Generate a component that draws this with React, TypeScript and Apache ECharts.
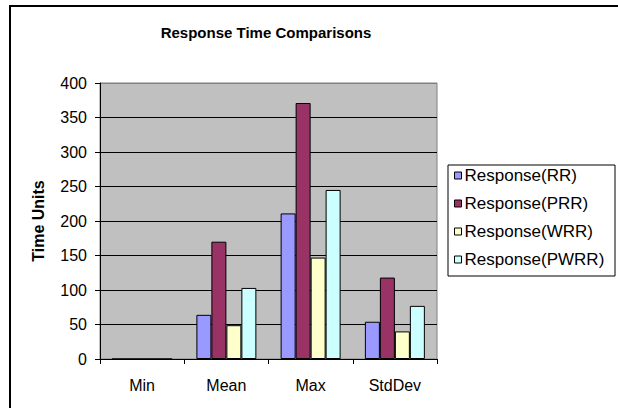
import React, { useEffect, useRef } from "react";
import * as echarts from "echarts";

const categories = ["Min", "Mean", "Max", "StdDev"];
const seriesNames = ["Response(RR)", "Response(PRR)", "Response(WRR)", "Response(PWRR)"];
const rrValues = [0, 64, 211, 54];
const prrValues = [0, 170, 371, 118];
const wrrValues = [0, 49, 147, 40];
const pwrrValues = [0, 103, 245, 77];
const seriesColors = ["#9999FF", "#993366", "#FFFFCC", "#CCFFFF"];
const yTicks = [0, 50, 100, 150, 200, 250, 300, 350, 400];

const FONT = "'Liberation Sans', Arial, sans-serif";

export default function App() {
  const ref = useRef<HTMLDivElement>(null);
  useEffect(() => {
    if (!ref.current) return;
    const chart = echarts.init(ref.current, null, { renderer: "svg" });
    const values = [rrValues, prrValues, wrrValues, pwrrValues];
    const splitColors = yTicks.map((_, i) => (i === yTicks.length - 1 ? "#808080" : "#000000"));
    chart.setOption({
      animation: false,
      backgroundColor: "#ffffff",
      textStyle: { fontFamily: FONT },
      graphic: [
        {
          type: "rect",
          shape: { x: 10, y: 6, width: 700, height: 500 },
          style: { fill: "none", stroke: "#000", lineWidth: 2 },
          z: 10,
        },
        {
          type: "text",
          x: 266,
          y: 32,
          style: {
            text: "Response Time Comparisons",
            fontFamily: FONT,
            fontSize: 15,
            fontWeight: "bold",
            fill: "#000",
            align: "center",
            verticalAlign: "middle",
          },
        },
        {
          type: "rect",
          shape: { x: 448, y: 165, width: 167, height: 111 },
          style: { fill: "#fff", stroke: "#000", lineWidth: 1 },
          z: 0,
        },
      ],
      legend: {
        orient: "vertical",
        left: 454,
        top: 167,
        padding: 0,
        itemWidth: 7,
        itemHeight: 7,
        itemGap: 11,
        icon: "rect",
        textStyle: { fontFamily: FONT, fontSize: 17, color: "#000", padding: [0, 0, 0, -2] },
        itemStyle: { borderColor: "#000", borderWidth: 1 },
        data: seriesNames,
        z: 5,
      },
      grid: {
        left: 100,
        top: 83,
        width: 337,
        height: 276,
        show: true,
        backgroundColor: "#C0C0C0",
        borderColor: "#808080",
        borderWidth: 1,
      },
      xAxis: {
        type: "category",
        data: categories,
        axisLine: { lineStyle: { color: "#000", width: 1 } },
        axisTick: { show: true, length: 5, lineStyle: { color: "#000" } },
        axisLabel: { fontFamily: FONT, fontSize: 16, color: "#000", margin: 18 },
        splitLine: { show: false },
      },
      yAxis: {
        type: "value",
        min: 0,
        max: 400,
        interval: 50,
        name: "Time Units",
        nameLocation: "middle",
        nameRotate: 90,
        nameGap: 54,
        nameTextStyle: { fontFamily: FONT, fontSize: 16, fontWeight: "bold", color: "#000" },
        axisLine: { show: true, lineStyle: { color: "#000", width: 1 } },
        axisTick: { show: true, length: 5, lineStyle: { color: "#000" } },
        axisLabel: { fontFamily: FONT, fontSize: 16, color: "#000", margin: 13 },
        splitLine: { show: true, lineStyle: { color: splitColors, width: 1 } },
      },
      series: seriesNames.map((name, i) => ({
        name,
        type: "bar",
        data: values[i],
        barGap: "0%",
        barCategoryGap: "28.8%",
        itemStyle: { color: seriesColors[i], borderColor: "#000", borderWidth: 1 },
      })),
    });
    return () => chart.dispose();
  }, []);
  return (
    <div
      ref={ref}
      style={{ position: "absolute", left: 0, top: 0, width: 618, height: 408 }}
    />
  );
}
